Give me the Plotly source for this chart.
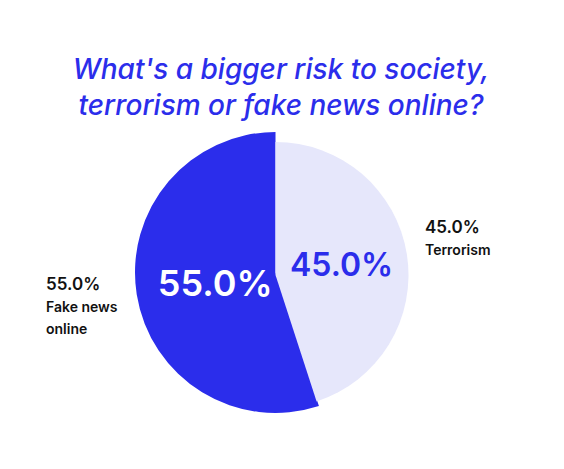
import plotly.graph_objects as go

# data
labels = ['Terrorism', 'Fake news online']
values = [45.0, 55.0]
outside_names = ['Terrorism', 'Fake news<br>online']

BLUE = '#2B2DEB'
LIGHT = '#E6E7FB'
CLEAR = 'rgba(0,0,0,0)'
W, H = 564, 469
OFF = 8  # page body margin


def px_x(v):
    return (v - OFF) / W


def px_y(v):
    return 1 - (v - OFF) / H


fig = go.Figure()

# larger slice (Fake news) drawn with a bigger radius
fig.add_trace(go.Pie(
    labels=labels, values=values, sort=False, direction='clockwise', rotation=0,
    marker=dict(colors=[CLEAR, BLUE], line=dict(width=0)),
    texttemplate=['', '&nbsp;&nbsp;%{percent:.1%}'],
    textposition='inside', insidetextorientation='horizontal',
    insidetextfont=dict(family='Inter', size=[1, 36], color=['white', 'white'], weight=600),
    domain=dict(x=[px_x(135), px_x(416)], y=[px_y(413), px_y(132)]),
    hoverinfo='label+percent', showlegend=False,
))

# smaller slice (Terrorism)
fig.add_trace(go.Pie(
    labels=labels, values=values, sort=False, direction='clockwise', rotation=0,
    marker=dict(colors=[LIGHT, CLEAR], line=dict(width=0)),
    texttemplate=['%{percent:.1%}', ''],
    textposition='inside', insidetextorientation='horizontal',
    insidetextfont=dict(family='Inter', size=[32, 1], color=[BLUE, BLUE], weight=600),
    domain=dict(x=[px_x(142.5), px_x(408.5)], y=[px_y(408), px_y(142)]),
    hoverinfo='label+percent', showlegend=False,
))

# outside labels
total = sum(values)
label_pos = [(423, 238), (44, 305)]
for v, name, (lx, ly) in zip(values, outside_names, label_pos):
    fig.add_annotation(
        x=px_x(lx), y=px_y(ly), xref='paper', yref='paper',
        xanchor='left', yanchor='middle', align='left', showarrow=False,
        text=f'{v / total * 100:.1f}%<br><span style="font-size:14px">{name}</span>',
        font=dict(family='Inter', size=17, color='#111111', weight=600),
    )

fig.update_layout(
    width=W, height=H,
    margin=dict(l=0, r=0, t=0, b=0),
    paper_bgcolor='white', plot_bgcolor='white',
    title=dict(
        text="What's a bigger risk to society,<br>terrorism or fake news online?",
        x=px_x(281), xanchor='center', y=px_y(79), yanchor='top',
        font=dict(family='Inter', size=28, color=BLUE, style='italic', weight=500),
    ),
)

fig.write_html('out.html')
